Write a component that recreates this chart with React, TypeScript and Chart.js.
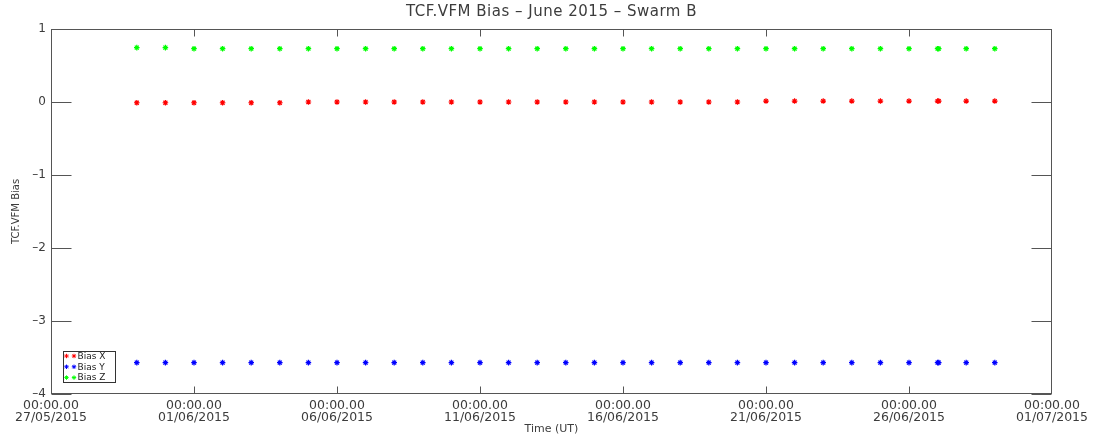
import React, { useEffect, useRef } from 'react';
import { Chart, registerables } from 'chart.js';

Chart.register(...registerables);

// Days since 27/05/2015 00:00 UT
const dayOffsets = [3, 4, 5, 6, 7, 8, 9, 10, 11, 12, 13, 14, 15, 16, 17, 18, 19, 20, 21, 22, 23, 24, 25, 26, 27, 28, 29, 30, 31, 31.04, 32, 33];
const biasX = [-0.01, -0.01, -0.01, -0.01, -0.01, -0.01, 0.0, 0.0, 0.0, 0.0, 0.0, 0.0, 0.0, 0.0, 0.0, 0.0, 0.0, 0.0, 0.0, 0.0, 0.0, 0.0, 0.013, 0.013, 0.013, 0.013, 0.013, 0.013, 0.013, 0.013, 0.013, 0.013];
const biasY = [-3.57, -3.57, -3.57, -3.57, -3.57, -3.57, -3.57, -3.57, -3.57, -3.57, -3.57, -3.57, -3.57, -3.57, -3.57, -3.57, -3.57, -3.57, -3.57, -3.57, -3.57, -3.57, -3.57, -3.57, -3.57, -3.57, -3.57, -3.57, -3.57, -3.57, -3.57, -3.57];
const biasZ = [0.745, 0.745, 0.73, 0.73, 0.73, 0.73, 0.73, 0.73, 0.73, 0.73, 0.73, 0.73, 0.73, 0.73, 0.73, 0.73, 0.73, 0.73, 0.73, 0.73, 0.73, 0.73, 0.73, 0.73, 0.73, 0.73, 0.73, 0.73, 0.73, 0.73, 0.73, 0.73];

const seriesLabels = ['Bias X', 'Bias Y', 'Bias Z'];
const seriesColors = ['#ff0000', '#0000ff', '#00ff00'];

const xTickTime = '00:00.00';
const xTickDates = ['27/05/2015', '01/06/2015', '06/06/2015', '11/06/2015', '16/06/2015', '21/06/2015', '26/06/2015', '01/07/2015'];
const yTickLabels = ['–4', '–3', '–2', '–1', '0', '1'];

const chartTitle = 'TCF.VFM Bias – June 2015 – Swarm B';
const xTitle = 'Time (UT)';
const yTitle = 'TCF.VFM Bias';

const FONT = "'DejaVu Sans', sans-serif";
const TEXT = '#3c3c3c';
const FRAME = '#555555';

const framePlugin = {
  id: 'idlFrame',
  afterDraw(chart: any) {
    const { ctx, chartArea: a, scales } = chart;
    const L = Math.round(a.left) + 0.5;
    const R = Math.round(a.right) - 0.5;
    const T = Math.round(a.top) + 0.5;
    const B = Math.round(a.bottom) - 0.5;
    ctx.save();
    ctx.strokeStyle = FRAME;
    ctx.lineWidth = 1;
    ctx.strokeRect(L, T, R - L, B - T);
    ctx.beginPath();
    scales.y.ticks.forEach((t: any) => {
      const py = Math.round(scales.y.getPixelForValue(t.value)) + 0.5;
      ctx.moveTo(L, py);
      ctx.lineTo(L + 20, py);
      ctx.moveTo(R, py);
      ctx.lineTo(R - 20, py);
    });
    scales.x.ticks.forEach((t: any, i: number) => {
      if (i === 0 || i === scales.x.ticks.length - 1) return;
      const px = Math.round(scales.x.getPixelForValue(t.value)) + 0.5;
      ctx.moveTo(px, T);
      ctx.lineTo(px, T + 7);
      ctx.moveTo(px, B);
      ctx.lineTo(px, B - 7);
    });
    ctx.stroke();

    // title
    ctx.fillStyle = TEXT;
    ctx.font = `15px ${FONT}`;
    (ctx as any).letterSpacing = '0.5px';
    ctx.textAlign = 'center';
    ctx.textBaseline = 'middle';
    ctx.fillText(chartTitle, (a.left + a.right) / 2, 12);
    (ctx as any).letterSpacing = '0px';

    // legend box
    const bx = Math.round(a.left) + 12.5;
    const by = 351.5;
    const bw = 52;
    const bh = 31;
    ctx.strokeStyle = '#333';
    ctx.strokeRect(bx, by, bw, bh);
    ctx.font = `9px ${FONT}`;
    ctx.textAlign = 'left';
    chart.data.datasets.forEach((ds: any, i: number) => {
      const cy = by + 4.5 + i * 10.8;
      ctx.strokeStyle = ds.borderColor;
      ctx.lineWidth = 1;
      [bx + 3, bx + 10.5].forEach((cx) => {
        const r = 2.2;
        ctx.beginPath();
        ctx.moveTo(cx - r, cy);
        ctx.lineTo(cx + r, cy);
        ctx.moveTo(cx, cy - r);
        ctx.lineTo(cx, cy + r);
        const d = r * 0.7;
        ctx.moveTo(cx - d, cy - d);
        ctx.lineTo(cx + d, cy + d);
        ctx.moveTo(cx - d, cy + d);
        ctx.lineTo(cx + d, cy - d);
        ctx.stroke();
      });
      ctx.fillStyle = '#222';
      ctx.fillText(ds.label, bx + 14, cy + 0.5);
    });
    ctx.restore();
  },
};

function makeDataset(label: string, values: number[], color: string) {
  return {
    label,
    data: dayOffsets.map((d, i) => ({ x: d, y: values[i] })),
    borderColor: color,
    backgroundColor: color,
    pointStyle: 'star',
    pointRadius: 2.8,
    pointBorderWidth: 1.2,
    showLine: false,
  };
}

export default function App() {
  const ref = useRef<HTMLCanvasElement | null>(null);

  useEffect(() => {
    if (!ref.current) return;
    const chart = new Chart(ref.current, {
      type: 'scatter',
      data: {
        datasets: [
          makeDataset(seriesLabels[0], biasX, seriesColors[0]),
          makeDataset(seriesLabels[1], biasY, seriesColors[1]),
          makeDataset(seriesLabels[2], biasZ, seriesColors[2]),
        ],
      },
      options: {
        responsive: false,
        animation: false,
        events: [],
        layout: { padding: { top: 29, right: 50, left: 0, bottom: 0 } },
        plugins: {
          legend: { display: false },
          title: { display: false },
          tooltip: { enabled: false },
        },
        scales: {
          x: {
            type: 'linear',
            min: 0,
            max: 35,
            grid: { display: false, drawTicks: false },
            border: { display: false },
            afterFit: (s: any) => {
              s.height = 42;
            },
            afterBuildTicks: (s: any) => {
              s.ticks = xTickDates.map((_, i) => ({ value: i * 5 }));
            },
            ticks: {
              autoSkip: false,
              maxRotation: 0,
              padding: 6,
              color: TEXT,
              font: { family: FONT, size: 12.5, lineHeight: 0.92 },
              callback: (v: any) => [xTickTime, xTickDates[Math.round(Number(v) / 5)]],
            },
            title: {
              display: true,
              text: xTitle,
              color: TEXT,
              font: { family: FONT, size: 11 },
              padding: 0,
            },
          },
          y: {
            min: -4,
            max: 1,
            grid: { display: false, drawTicks: false },
            border: { display: false },
            afterFit: (s: any) => {
              s.width = 51;
            },
            afterBuildTicks: (s: any) => {
              s.ticks = yTickLabels.map((_, i) => ({ value: i - 4 }));
            },
            ticks: {
              padding: 5,
              color: TEXT,
              font: { family: FONT, size: 12 },
              callback: (v: any) => yTickLabels[Math.round(Number(v)) + 4],
            },
            title: {
              display: true,
              text: yTitle,
              color: TEXT,
              font: { family: FONT, size: 10 },
              padding: { top: 10, bottom: 0 },
            },
          },
        },
      },
      plugins: [framePlugin],
    } as any);
    return () => chart.destroy();
  }, []);

  return (
    <div style={{ position: 'fixed', left: 0, top: 0, width: 1102, height: 436, background: '#fff' }}>
      <canvas ref={ref} width={1102} height={436} style={{ display: 'block' }} />
    </div>
  );
}
